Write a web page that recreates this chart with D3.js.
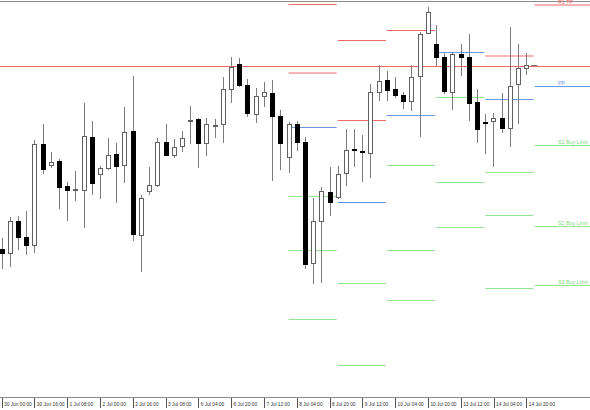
<!DOCTYPE html>
<html>
<head>
<meta charset="utf-8">
<script src="https://cdn.jsdelivr.net/npm/d3@7"></script>
<style>
  body { margin: 0; background: #fff; }
  svg { display: block; }
</style>
</head>
<body>
<div id="chart"></div>
<script>
// H4 bars, oldest first
const opens  = [1.11505,1.11475,1.11790,1.11633,1.11545,1.12557,1.12350,1.12390,1.12135,1.12105,
                1.12100,1.12630,1.12257,1.12320,1.12457,1.12347,1.12693,1.11650,1.12095,1.12150,
                1.12577,1.12450,1.12543,1.12797,1.12807,1.12567,1.12745,1.12757,1.13107,1.13358,
                1.13150,1.12860,1.13043,1.13075,1.12840,1.12433,1.12757,1.12583,1.11367,1.11790,
                1.12077,1.12033,1.12275,1.12510,1.12490,1.12475,1.13083,1.13200,1.13107,1.13050,
                1.12993,1.13235,1.13667,1.13560,1.13433,1.13083,1.13457,1.13433,1.12983,1.12780,
                1.12790,1.12817,1.12717,1.13157,1.13317];
const highs  = [1.11620,1.11835,1.11840,1.11895,1.12600,1.12760,1.12480,1.12407,1.12180,1.12295,
                1.12973,1.12790,1.12340,1.12623,1.12567,1.12933,1.13240,1.12050,1.12325,1.12617,
                1.12757,1.12608,1.12695,1.12940,1.12815,1.12817,1.12810,1.13227,1.13430,1.13417,
                1.13207,1.13117,1.13177,1.13200,1.12900,1.12783,1.12790,1.12630,1.12017,1.12127,
                1.12325,1.12340,1.12707,1.12707,1.12647,1.13160,1.13350,1.13293,1.13233,1.13083,
                1.13350,1.13677,1.13933,1.13750,1.13473,1.13483,1.13560,1.13660,1.13107,1.12860,
                1.12873,1.13067,1.13727,1.13557,1.13473];
const lows   = [1.11310,1.11330,1.11500,1.11450,1.11470,1.12257,1.12320,1.11910,1.11790,1.11990,
                1.11717,1.12050,1.12010,1.12300,1.11967,1.12170,1.11595,1.11280,1.12050,1.12133,
                1.12437,1.12417,1.12483,1.12560,1.12323,1.12440,1.12617,1.12567,1.12970,1.13125,
                1.12833,1.12767,1.12930,1.12193,1.12300,1.12273,1.12495,1.11310,1.11160,1.11173,
                1.11840,1.12010,1.12137,1.12327,1.12175,1.12220,1.12990,1.12993,1.13017,1.12910,
                1.12893,1.12627,1.13657,1.13340,1.13057,1.12900,1.13240,1.12793,1.12573,1.12460,
                1.12327,1.12673,1.12533,1.12757,1.13250];
const closes = [1.11470,1.11790,1.11630,1.11550,1.12555,1.12310,1.12377,1.12133,1.12103,1.12110,
                1.12637,1.12167,1.12323,1.12450,1.12343,1.12683,1.11657,1.12025,1.12145,1.12577,
                1.12450,1.12533,1.12617,1.12800,1.12567,1.12757,1.12747,1.13113,1.13327,1.13150,
                1.12867,1.13040,1.13077,1.12843,1.12567,1.12760,1.12583,1.11360,1.11790,1.12087,
                1.11983,1.12260,1.12500,1.12500,1.12477,1.13083,1.13193,1.13100,1.13050,1.12993,
                1.13233,1.13657,1.13877,1.13433,1.13090,1.13457,1.13427,1.12967,1.12707,1.12777,
                1.12817,1.12717,1.13143,1.13317,1.13350];

// time labels, one every 4 bars
const tickLabels = ['30 Jun 00:00','30 Jun 16:00','1 Jul 08:00','2 Jul 00:00','2 Jul 16:00',
                    '3 Jul 08:00','6 Jul 04:00','6 Jul 20:00','7 Jul 12:00','8 Jul 04:00',
                    '8 Jul 20:00','9 Jul 12:00','10 Jul 04:00','10 Jul 20:00','13 Jul 12:00',
                    '14 Jul 04:00','14 Jul 20:00'];

// daily pivot levels, each starts at a bar index (null = off screen)
const pivotStart = [35, 41, 47, 53, 59, 65];
const pivotR2 = [1.13955, 1.13595, null,    null,    null,    null];
const pivotR1 = [1.13270, 1.12795, 1.13695, null,    1.13440, 1.13950];
const pivotPP = [1.12725, 1.11975, 1.12845, 1.13475, 1.13005, 1.13135];
const pivotS1 = [1.12035, 1.11165, 1.12345, 1.13025, 1.12275, 1.12545];
const pivotS2 = [1.11495, 1.10345, 1.11495, 1.12175, 1.11845, 1.11735];
const pivotS3 = [1.10805, null,    1.10995, 1.11725, 1.11115, 1.11145];

const hLinePrice = 1.13335;
const levelLabels = ['R1 TP', 'PP', 'S1 Buy Limit', 'S2 Buy Limit', 'S3 Buy Limit'];

const width = 590, height = 410;
const red = '#f06a6a', blue = '#6a96e8', green = '#94e494';

const svg = d3.select('#chart').append('svg')
  .attr('width', width).attr('height', height);

const x = d3.scaleLinear().domain([0, 64]).range([1.5, 526.3]);
const y = d3.scaleLinear().domain([1.10, 1.14]).range([400, 0]);

// top frame line
svg.append('line')
  .attr('x1', 0).attr('x2', width).attr('y1', 1.5).attr('y2', 1.5)
  .attr('stroke', '#8c8c8c').attr('stroke-width', 1);

// pivot levels
const levels = svg.append('g');
const levelSets = [
  { values: pivotR2, color: red },
  { values: pivotR1, color: red },
  { values: pivotPP, color: blue },
  { values: pivotS1, color: green },
  { values: pivotS2, color: green },
  { values: pivotS3, color: green }
];
levelSets.forEach(function(set) {
  pivotStart.forEach(function(start, k) {
    const v = set.values[k];
    if (v == null) return;
    const isLast = k == pivotStart.length - 1;
    levels.append('line')
      .attr('x1', x(start))
      .attr('x2', isLast ? width : x(start + 6) - 1)
      .attr('y1', y(v)).attr('y2', y(v))
      .attr('stroke', set.color).attr('stroke-width', 1);
  });
});

// horizontal line across chart
svg.append('line')
  .attr('x1', 0).attr('x2', width)
  .attr('y1', y(hLinePrice)).attr('y2', y(hLinePrice))
  .attr('stroke', red).attr('stroke-width', 1);

// labels for the current day levels
const last = pivotStart.length - 1;
const labelValues = [pivotR1[last], pivotPP[last], pivotS1[last], pivotS2[last], pivotS3[last]];
const labelColors = [red, blue, '#7fd67f', '#7fd67f', '#7fd67f'];
svg.append('g').selectAll('text').data(labelValues).enter().append('text')
  .attr('x', 558)
  .attr('y', function(d) { return y(d) - 1.5; })
  .attr('fill', function(d, i) { return labelColors[i]; })
  .style('font-family', 'Liberation Sans, Arial, sans-serif')
  .style('font-size', '5.3px')
  .text(function(d, i) { return levelLabels[i]; });

// candles
const candles = svg.append('g').attr('shape-rendering', 'crispEdges');
const idx = d3.range(opens.length);

candles.selectAll('line.wick').data(idx).enter().append('line')
  .attr('class', 'wick')
  .attr('x1', function(i) { return Math.round(x(i)) + 0.5; })
  .attr('x2', function(i) { return Math.round(x(i)) + 0.5; })
  .attr('y1', function(i) { return Math.round(y(highs[i])); })
  .attr('y2', function(i) { return Math.round(y(lows[i])); })
  .attr('stroke', '#7c7c7c');

candles.selectAll('rect.body').data(idx).enter().append('rect')
  .attr('class', 'body')
  .attr('x', function(i) { return Math.round(x(i)) - 1.5; })
  .attr('y', function(i) { return Math.round(y(Math.max(opens[i], closes[i]))) + 0.5; })
  .attr('width', 4)
  .attr('height', function(i) {
    const h = Math.round(y(Math.min(opens[i], closes[i]))) - Math.round(y(Math.max(opens[i], closes[i])));
    return Math.max(h, 1);
  })
  .attr('fill', function(i) { return closes[i] >= opens[i] ? '#fff' : '#000'; })
  .attr('stroke', function(i) { return closes[i] >= opens[i] ? '#606060' : '#000'; });

// last price dash
const lastIdx = opens.length - 1;
svg.append('line')
  .attr('x1', x(lastIdx) + 5).attr('x2', x(lastIdx) + 11)
  .attr('y1', Math.round(y(closes[lastIdx])) + 0.5).attr('y2', Math.round(y(closes[lastIdx])) + 0.5)
  .attr('stroke', '#707070').attr('stroke-width', 1);

// time axis
const xAxis = d3.axisBottom(x)
  .tickValues(d3.range(0, opens.length, 4))
  .tickFormat(function(d) { return tickLabels[d / 4]; })
  .tickSize(10)
  .tickSizeOuter(0);

const axisG = svg.append('g')
  .attr('transform', 'translate(0,397.5)')
  .attr('shape-rendering', 'crispEdges')
  .call(xAxis);
axisG.select('.domain').attr('stroke', '#8c8c8c').attr('d', 'M0,0H' + width);
axisG.selectAll('.tick line').attr('stroke', '#555');
axisG.selectAll('.tick text')
  .attr('text-anchor', 'start')
  .attr('x', 2).attr('y', 5).attr('dy', '0.71em')
  .attr('fill', '#333')
  .style('font-family', 'Liberation Sans, Arial, sans-serif')
  .style('font-size', '4.8px');
</script>
</body>
</html>
